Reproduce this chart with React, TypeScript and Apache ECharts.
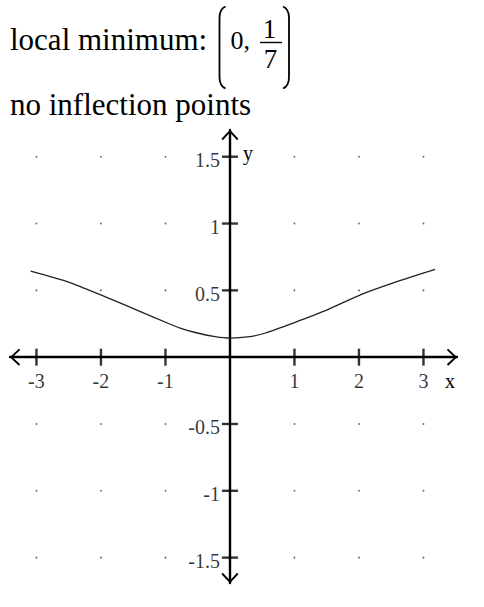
import { useEffect, useRef } from "react";
import * as echarts from "echarts";

// Curve
const CURVE_X = [-3.09, -2.5, -1.94, -1.47, -0.96, -0.75, -0.49, -0.23, 0, 0.31, 0.54, 1.0, 1.47, 2.04, 2.51, 3.02, 3.18];
const CURVE_Y = [0.644, 0.562, 0.453, 0.358, 0.254, 0.214, 0.179, 0.154, 0.143, 0.154, 0.179, 0.259, 0.346, 0.47, 0.552, 0.632, 0.657];

const X_TICKS = [-3, -2, -1, 1, 2, 3];
const Y_TICKS = [-1.5, -1, -0.5, 0.5, 1, 1.5];
const X_RANGE = [-3.41, 3.52];
const Y_RANGE = [-1.69, 1.7];

const TITLE_LINE_1 = "local minimum:";
const TITLE_LINE_2 = "no inflection points";
const POINT_X = "0,";
const POINT_NUM = "1";
const POINT_DEN = "7";
const X_NAME = "x";
const Y_NAME = "y";

const SERIF = "Liberation Serif";
const CHEVRON = "path://M0 9 L8.5 0 L17 9 L15.6 10.3 L8.5 2.7 L1.4 10.3 Z";

function txt(text: string, x: number, y: number, size: number, align = "left") {
  return {
    type: "text",
    x,
    y,
    silent: true,
    style: {
      text,
      x: 0,
      y: 0,
      fill: "#000",
      fontSize: size,
      fontFamily: SERIF,
      align,
      textAlign: align,
      verticalAlign: "middle",
      textVerticalAlign: "middle",
    },
  };
}

const strokeStyle = { stroke: "#000", lineWidth: 1.8, fill: "none" };

export default function App() {
  const ref = useRef<HTMLDivElement>(null);
  useEffect(() => {
    const chart = echarts.init(ref.current!, null, { renderer: "svg" });

    const dots: number[][] = [];
    X_TICKS.forEach((xv) => Y_TICKS.forEach((yv) => dots.push([xv, yv])));

    const axisCommon = {
      type: "value",
      splitLine: { show: false },
      axisTick: { show: false },
      axisLabel: { show: false },
      axisLine: {
        show: true,
        onZero: true,
        symbol: [CHEVRON, CHEVRON],
        symbolSize: [17, 10.3],
        symbolOffset: [5, -5],
        lineStyle: { color: "#000", width: 2.4 },
      },
    };

    const labelFont = { fontFamily: SERIF, fontSize: 20, color: "#000" };

    const option: any = {
      animation: false,
      backgroundColor: "#fff",
      grid: { left: 10, right: 27, top: 130, bottom: 24, containLabel: false, outerBoundsMode: "none" },
      xAxis: { ...axisCommon, min: X_RANGE[0], max: X_RANGE[1] },
      yAxis: { ...axisCommon, min: Y_RANGE[0], max: Y_RANGE[1] },
      series: [
        {
          type: "scatter",
          data: dots,
          symbol: "circle",
          symbolSize: 1.8,
          itemStyle: { color: "#444" },
          silent: true,
          z: 1,
        },
        {
          type: "scatter",
          data: X_TICKS.map((v) => [v, 0]),
          symbol: "rect",
          symbolSize: [2.4, 17],
          itemStyle: { color: "#000" },
          label: {
            show: true,
            position: "bottom",
            distance: 5,
            formatter: (p: any) => String(p.value[0]),
            ...labelFont,
          },
          silent: true,
          z: 5,
        },
        {
          type: "scatter",
          data: Y_TICKS.map((v) => [0, v]),
          symbol: "rect",
          symbolSize: [16, 2.4],
          itemStyle: { color: "#000" },
          label: {
            show: true,
            position: "left",
            distance: 2,
            offset: [0, 3.5],
            formatter: (p: any) => String(p.value[1]),
            ...labelFont,
          },
          silent: true,
          z: 5,
        },
        {
          type: "line",
          data: CURVE_X.map((x, i) => [x, CURVE_Y[i]]),
          showSymbol: false,
          smooth: 0.2,
          lineStyle: { color: "#222", width: 1.3 },
          silent: true,
          z: 4,
        },
      ],
      graphic: [
        txt(TITLE_LINE_1, 10, 39.5, 31),
        txt(TITLE_LINE_2, 10, 104, 31),
        txt(POINT_X, 230.5, 40.5, 26),
        txt(POINT_NUM, 269.5, 29, 27, "center"),
        txt(POINT_DEN, 270.5, 58.5, 27, "center"),
        { type: "line", silent: true, shape: { x1: 260, y1: 42.5, x2: 282, y2: 42.5 }, style: { stroke: "#000", lineWidth: 1.4 } },
        // left bracket
        { type: "bezierCurve", silent: true, shape: { x1: 225.5, y1: 6.5, cpx1: 219.5, cpy1: 9, x2: 219.5, y2: 18 }, style: strokeStyle },
        { type: "line", silent: true, shape: { x1: 219.5, y1: 18, x2: 219.5, y2: 77 }, style: strokeStyle },
        { type: "bezierCurve", silent: true, shape: { x1: 219.5, y1: 77, cpx1: 219.5, cpy1: 86, x2: 225.5, y2: 88.5 }, style: strokeStyle },
        // right bracket
        { type: "bezierCurve", silent: true, shape: { x1: 283, y1: 6.5, cpx1: 289, cpy1: 9, x2: 289, y2: 18 }, style: strokeStyle },
        { type: "line", silent: true, shape: { x1: 289, y1: 18, x2: 289, y2: 77 }, style: strokeStyle },
        { type: "bezierCurve", silent: true, shape: { x1: 289, y1: 77, cpx1: 289, cpy1: 86, x2: 283, y2: 88.5 }, style: strokeStyle },
        txt(Y_NAME, 243, 153, 20),
        txt(X_NAME, 450, 381, 20, "center"),
      ],
    };

    chart.setOption(option);
    return () => chart.dispose();
  }, []);

  return (
    <div
      ref={ref}
      style={{ position: "absolute", left: 0, top: 0, width: 484, height: 607, background: "#fff" }}
    />
  );
}
